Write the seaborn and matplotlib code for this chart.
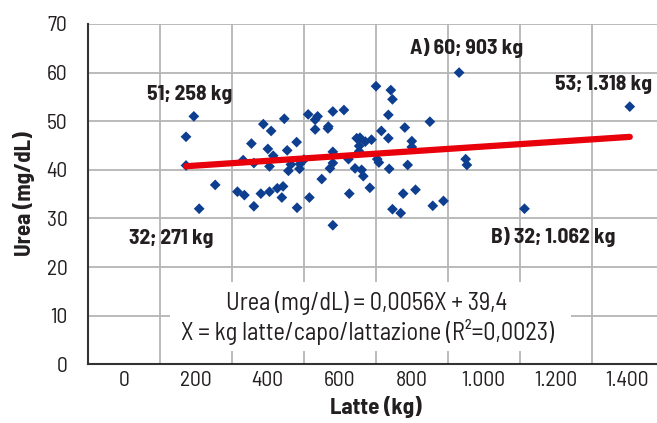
import numpy as np
import pandas as pd
import seaborn as sns
import matplotlib.pyplot as plt
from matplotlib.patches import Rectangle

# latte (kg/capo/lattazione) e urea (mg/dL)
latte = [258, 239, 239, 310, 271, 364, 381, 404, 421, 442,
         461, 475, 472, 509, 378, 404, 442, 451, 438, 398,
         427, 446, 478, 485, 508, 488, 494, 515, 516, 526,
         569, 539, 536, 553, 559, 553, 585, 584, 596, 623,
         596, 596, 589, 596, 634, 636, 650, 666, 670, 654,
         662, 675, 690, 660, 660, 686, 701, 737, 741, 731,
         714, 731, 704, 708, 733, 741, 761, 767, 778, 771,
         788, 788, 797, 832, 839, 865, 903, 919, 922, 1062, 1318]
urea = [51.0, 46.8, 40.9, 36.9, 32.0, 35.5, 34.8, 32.5, 35.1, 35.5,
        36.2, 36.6, 34.3, 32.2, 42.0, 41.4, 40.7, 42.9, 44.3, 45.4,
        49.4, 48.0, 50.5, 44.0, 45.7, 39.8, 41.1, 40.2, 41.2, 42.1,
        38.1, 34.3, 51.4, 50.3, 51.0, 48.3, 48.9, 48.5, 52.0, 52.3,
        43.7, 41.4, 40.3, 28.6, 42.2, 35.1, 40.3, 40.0, 38.7, 46.5,
        46.6, 45.8, 46.2, 44.9, 43.8, 36.3, 57.2, 56.4, 54.5, 51.3,
        48.0, 46.5, 42.2, 41.5, 40.2, 31.9, 31.1, 35.1, 41.0, 48.7,
        45.9, 44.7, 35.9, 49.9, 32.6, 33.6, 60.0, 42.2, 41.0, 32.0, 53.0]

# retta di regressione riportata nel grafico
pendenza = 0.0056
intercetta = 39.4

x_labels = ['0', '200', '400', '600', '800', '1.000', '1.200', '1.400']
y_ticks = [0, 10, 20, 30, 40, 50, 60, 70]

df = pd.DataFrame({'latte': latte, 'urea': urea})
x_fit = np.array([df['latte'].min(), df['latte'].max()])
fit = pd.DataFrame({'latte': x_fit, 'urea': pendenza * x_fit + intercetta})

sns.set_style('white')
plt.rcParams['font.family'] = ['Barlow Semi Condensed', 'DejaVu Sans']
testo = '#231f20'
griglia = '#b5b5b5'
fs = 15.5

fig = plt.figure(figsize=(6.57, 4.23), dpi=100)
ax = fig.add_axes([0.1335, 0.1388, 0.8764, 0.8045])

ax.set_xlim(0, 1400)
ax.set_ylim(0, 70)
ax.set_axisbelow(True)

# griglia
ax.set_xticks(np.arange(0, 1401, 175))
ax.set_xticks(np.arange(87.5, 1400, 175), minor=True)
ax.set_xticklabels([])
ax.set_xticklabels(x_labels, minor=True)
ax.set_yticks(y_ticks)
ax.grid(True, which='major', color=griglia, lw=1.3)

ax.tick_params(axis='x', which='major', direction='out', length=8, width=1.3,
               color=testo)
ax.tick_params(axis='x', which='minor', length=0, pad=5, labelsize=fs,
               labelcolor=testo)
ax.tick_params(axis='y', direction='out', length=9.5, width=1.3,
               color=griglia, pad=5, labelsize=fs, labelcolor=testo)

for s in ['top', 'right']:
    ax.spines[s].set_visible(False)
for s in ['left', 'bottom']:
    ax.spines[s].set_color('#333333')
    ax.spines[s].set_linewidth(1.5)

# riquadro bianco dell'equazione
ax.add_patch(Rectangle((200, 2.7), 975, 14.2, fc='white', ec='none', zorder=1))

sns.scatterplot(data=df, x='latte', y='urea', marker='D', s=30,
                color='#0d3e8f', edgecolor='none', ax=ax, zorder=3)
sns.lineplot(data=fit, x='latte', y='urea', color='#e8000b', lw=4.5,
             ax=ax, zorder=4)

kw = dict(ha='center', va='center', fontsize=fs, fontweight='bold',
          color=testo)
ax.text(249, 55.4, '51; 258 kg', **kw)
ax.text(920, 65.1, 'A) 60; 903 kg', **kw)
ax.text(1253, 57.5, '53; 1.318 kg', **kw)
ax.text(203, 25.8, '32; 271 kg', **kw)
ax.text(1131, 26.2, 'B) 32; 1.062 kg', **kw)

ax.text(679, 12.6, 'Urea (mg/dL) = 0,0056X + 39,4', ha='center', va='center',
        fontsize=17.5, color=testo, zorder=5)
ax.text(679, 6.65, 'X = kg latte/capo/lattazione (R²=0,0023)', ha='center',
        va='center', fontsize=17.5, color=testo, zorder=5)

ax.set_xlabel('Latte (kg)', fontsize=16.5, fontweight='bold', color=testo,
              labelpad=4)
ax.set_ylabel('Urea (mg/dL)', fontsize=16.5, fontweight='bold', color=testo,
              labelpad=8)

fig.savefig('out.png', dpi=100)
